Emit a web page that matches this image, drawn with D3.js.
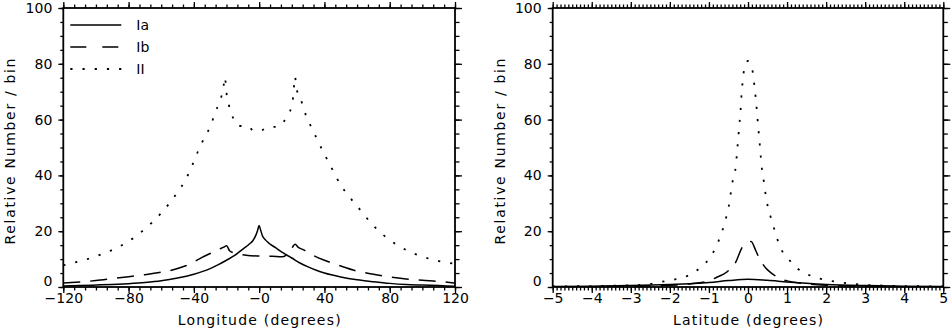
<!DOCTYPE html>
<html><head><meta charset="utf-8">
<script src="https://cdn.jsdelivr.net/npm/d3@7"></script>
<style>
html,body{margin:0;padding:0;background:#fff;}
svg{display:block;font-family:"DejaVu Sans",sans-serif;}
</style></head>
<body>
<svg id="chart" width="952" height="330"></svg>
<script>
// ---- data ----
const seriesNames = ["Ia", "Ib", "II"];
const lonIa = [-120,-110,-100,-90,-80,-70,-60,-50,-40,-35,-30,-25,-20,-15,-10,-6,-4,-2,-1,0,1,2,4,6,10,15,20,25,30,35,40,50,60,70,80,90,100,110,120];
const lonIaVal = [0.4,0.5,0.7,0.9,1.2,1.6,2.2,3.2,4.6,5.5,6.6,8.0,9.6,11.3,13.6,15.4,16.5,18.6,20.2,22,20.2,18.4,16.8,15.7,14.1,12.1,10.4,8.6,7.2,6.0,5.0,3.6,2.6,1.9,1.3,0.9,0.7,0.5,0.3];
const lonIb = [-120,-110,-100,-90,-80,-70,-60,-50,-45,-40,-35,-30,-25,-21,-20,-18,-14,-8,0,8,14,17,19,21,22,24,27,30,35,40,45,50,60,70,80,90,100,110,120];
const lonIbVal = [1.4,1.8,2.3,3.0,3.7,4.4,5.3,6.6,7.6,9.0,10.6,12.0,13.4,14.5,14.8,12.9,12.0,11.4,11.1,11.0,10.8,11.5,12.5,14.8,15.3,14.2,13.4,12.4,10.8,9.6,8.5,7.5,5.7,4.6,3.6,2.9,2.4,2.0,1.4];
const lonII = [-120,-110,-100,-90,-80,-70,-60,-50,-45,-40,-36.7,-33.2,-29.7,-27.1,-24,-22,-21,-20,-18.3,-15.9,-12.2,-7.3,-3.2,1.5,6.1,11,16.4,19.9,21,21.9,23,26,28.6,32.1,35.2,40,45,50,55,60,70,80,90,100,110,120];
const lonIIVal = [7.8,9.2,11.0,13.3,16.4,20.8,26.5,34,38.5,45,49.7,53.9,57.8,62.3,66.8,71,75.2,69.5,64.6,60.5,57.7,57.7,56.0,56.2,57.4,57.4,60.5,64.9,69,75.4,71,66.4,61.6,57.1,53.3,47.6,42,36.5,32.5,29,22,16.8,13.3,10.9,9.3,8.3];

const latIa = [-5,-4,-3,-2,-1.5,-1,-0.5,0,0.5,1,1.5,2,3,4,5];
const latIaVal = [0.15,0.3,0.5,0.9,1.2,1.6,2.3,2.8,2.4,1.8,1.3,0.9,0.5,0.3,0.15];
const latIb = [-5,-4,-3,-2,-1.5,-1,-0.8,-0.55,-0.33,-0.14,0,0.08,0.2,0.29,0.46,0.6,0.86,1,1.5,2,3,4,5];
const latIbVal = [0.05,0.1,0.25,0.6,1.1,2.2,3.5,5.3,8.5,14.4,16,16.3,13,10.3,6.7,5,2.8,2.2,1.1,0.6,0.25,0.1,0.05];
const latII = [-5,-4,-3,-2.5,-2.2,-1.85,-1.5,-1.21,-0.97,-0.8,-0.67,-0.57,-0.49,-0.44,-0.38,-0.31,-0.28,-0.25,-0.22,-0.19,-0.17,-0.14,-0.1,0,0.06,0.12,0.16,0.2,0.23,0.26,0.29,0.32,0.35,0.4,0.45,0.51,0.61,0.71,0.82,1.02,1.26,1.56,1.89,2.2,2.57,2.95,4,5];
const latIIVal = [0.2,0.35,0.6,1.1,1.9,2.8,4.3,7.1,10.6,15,19.6,24.4,29.1,33.8,39,43.5,48.5,53.3,58.4,63.2,68,73,77.8,81,80,77.2,72.6,67.4,62.6,57.7,52.9,47.9,43.1,38.4,33.3,28.6,23.8,19,14.4,10.3,6.7,4.3,2.8,2,1.3,0.8,0.35,0.2];

const lonTicks = [-120,-80,-40,0,40,80,120];
const lonTickLabels = ["\u2212120","\u221280","\u221240","\u22120","40","80","120"];
const latTicks = [-5,-4,-3,-2,-1,0,1,2,3,4,5];
const latTickLabels = ["\u22125","\u22124","\u22123","\u22122","\u22121","0","1","2","3","4","5"];
const yTicks = [0,20,40,60,80,100];
const yTickLabels = ["0","20","40","60","80","100"];
const xTitles = ["Longitude (degrees)", "Latitude (degrees)"];
const yTitle = "Relative Number / bin";

// ---- drawing ----
const svg = d3.select("#chart");
const plotTop = 8, plotBottom = 287;
const y = d3.scaleLinear().domain([0,100]).range([plotBottom, plotTop]);
const styles = {
  Ia: {dash: null},
  Ib: {dash: "17,10"},
  II: {dash: "2.2,10"}
};

function panel(x0, x1, domain, ticks, labels, minorStep, title, series, legend) {
  const x = d3.scaleLinear().domain(domain).range([x0, x1]);
  const g = svg.append("g");
  const minorX = d3.range(domain[0], domain[1] + minorStep/2, minorStep);
  const minorY = d3.range(0, 100.01, 5);

  const bx = g.append("g").attr("transform", `translate(0,${plotBottom})`)
    .call(d3.axisBottom(x).tickValues(ticks).tickSize(6).tickPadding(0).tickFormat((d,i)=>labels[i]));
  const bxm = g.append("g").attr("transform", `translate(0,${plotBottom})`)
    .call(d3.axisBottom(x).tickValues(minorX).tickSize(3.5).tickFormat(""));
  const tx = g.append("g").attr("transform", `translate(0,${plotTop})`)
    .call(d3.axisTop(x).tickValues(ticks).tickSize(6).tickFormat(""));
  const txm = g.append("g").attr("transform", `translate(0,${plotTop})`)
    .call(d3.axisTop(x).tickValues(minorX).tickSize(3.5).tickFormat(""));
  const ly = g.append("g").attr("transform", `translate(${x0},0)`)
    .call(d3.axisLeft(y).tickValues(yTicks).tickSize(5).tickPadding(6).tickFormat((d,i)=>yTickLabels[i]));
  const lym = g.append("g").attr("transform", `translate(${x0},0)`)
    .call(d3.axisLeft(y).tickValues(minorY).tickSize(3).tickFormat(""));
  const ry = g.append("g").attr("transform", `translate(${x1},0)`)
    .call(d3.axisRight(y).tickValues(yTicks).tickSize(7).tickFormat(""));
  const rym = g.append("g").attr("transform", `translate(${x1},0)`)
    .call(d3.axisRight(y).tickValues(minorY).tickSize(4.5).tickFormat(""));
  [bx,bxm,tx,txm,ly,lym,ry,rym].forEach(a => {
    a.select(".domain").remove();
    a.selectAll("line").attr("stroke","#000").attr("stroke-width",1.3);
    a.selectAll("text").attr("font-family","DejaVu Sans").attr("font-size",14).attr("fill","#000");
  });
  // the zero label sits just above the x-axis labels
  ly.selectAll(".tick text").filter(d => d === 0).attr("dy", "-0.1em");

  g.append("rect").attr("x", x0).attr("y", plotTop).attr("width", x1 - x0).attr("height", plotBottom - plotTop)
    .attr("fill","none").attr("stroke","#000").attr("stroke-width",1.8);

  const clipId = "clip" + Math.round(x0);
  svg.append("clipPath").attr("id", clipId).append("rect")
    .attr("x", x0).attr("y", plotTop).attr("width", x1-x0).attr("height", plotBottom-plotTop);

  const line = d3.line().x(d => x(d[0])).y(d => y(d[1])).curve(d3.curveMonotoneX);
  series.forEach(s => {
    g.append("path").datum(d3.zip(s.xs, s.ys))
      .attr("clip-path", `url(#${clipId})`)
      .attr("d", line).attr("fill","none").attr("stroke","#000")
      .attr("stroke-width", s.name === "II" ? 1.8 : 1.5)
      .attr("stroke-dasharray", styles[s.name].dash);
  });

  g.append("text").attr("x", (x0+x1)/2).attr("y", 325).attr("text-anchor","middle")
    .attr("font-size",14).attr("textLength", domain[1] > 10 ? 163 : 150).attr("lengthAdjust","spacing")
    .text(title);

  const yc = (plotTop + plotBottom) / 2 + 4;
  g.append("text").attr("transform", `translate(${x0 - 48},${yc}) rotate(-90)`)
    .attr("text-anchor","middle").attr("font-size",14)
    .attr("textLength",186).attr("lengthAdjust","spacing").text(yTitle);

  if (legend) {
    const ly0 = [25, 47, 69];
    seriesNames.forEach((n, i) => {
      g.append("line").attr("x1", x0 + 7).attr("x2", x0 + 58)
        .attr("y1", ly0[i]).attr("y2", ly0[i]).attr("stroke","#000")
        .attr("stroke-width", n === "II" ? 1.8 : 1.5)
        .attr("stroke-dasharray", n === "Ib" ? "16,16" : styles[n].dash);
      g.append("text").attr("x", x0 + 73).attr("y", ly0[i]).attr("dy","0.36em")
        .attr("font-size",14).text(n);
    });
  }
}

panel(63.3, 455, [-120,120], lonTicks, lonTickLabels, 40/6, xTitles[0], [
  {name:"Ia", xs: lonIa, ys: lonIaVal},
  {name:"Ib", xs: lonIb, ys: lonIbVal},
  {name:"II", xs: lonII, ys: lonIIVal}
], true);

panel(552.7, 943.3, [-5,5], latTicks, latTickLabels, 0.1, xTitles[1], [
  {name:"Ia", xs: latIa, ys: latIaVal},
  {name:"Ib", xs: latIb, ys: latIbVal},
  {name:"II", xs: latII, ys: latIIVal}
], false);
</script>
</body></html>
